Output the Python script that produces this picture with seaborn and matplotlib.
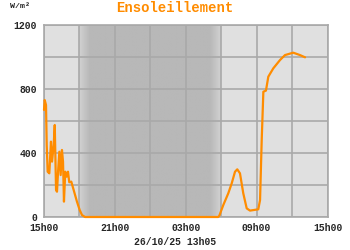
import numpy as np
import pandas as pd
import matplotlib
matplotlib.use("Agg")
import matplotlib.pyplot as plt
import seaborn as sns

# hours elapsed since 15h00 on the previous day
hours = [0.0, 0.06, 0.17, 0.23, 0.31, 0.45, 0.59, 0.68, 0.82, 0.91,
         1.02, 1.10, 1.19, 1.30, 1.41, 1.52, 1.61, 1.69, 1.80, 1.92,
         2.03, 2.14, 2.31, 2.51, 2.79, 3.02, 3.22, 3.47,
         14.75, 14.84, 15.18, 15.60, 15.89, 16.17, 16.36, 16.59, 16.87,
         17.16, 17.44, 18.14, 18.29, 18.43, 18.57, 18.79, 18.99, 19.41,
         19.98, 20.40, 21.10, 21.67, 22.10]
sun = [669, 731, 700, 450, 283, 273, 471, 346, 450, 575,
       169, 158, 283, 408, 262, 419, 346, 96, 283, 252,
       283, 217, 221, 169, 96, 44, 12, 0,
       0, 8, 75, 148, 210, 283, 298, 273, 148,
       54, 40, 48, 106, 481, 783, 790, 877, 929,
       981, 1012, 1027, 1012, 998]

tick_hours = [0, 6, 12, 18, 24]
tick_labels = ["15h00", "21h00", "03h00", "09h00", "15h00"]
y_ticks = [0, 400, 800, 1200]
title = "Ensoleillement"
unit = "W/m²"
stamp = "26/10/25 13h05"
night = (3, 15)

df = pd.DataFrame({"h": hours, "v": sun})

sns.set_style("white")
plt.rcParams["font.family"] = ["Liberation Mono", "DejaVu Sans Mono"]
plt.rcParams["font.weight"] = "bold"

fig = plt.figure(figsize=(3.5, 2.5), dpi=100)
ax = fig.add_axes([44 / 350, 1 - 217 / 250, 283.5 / 350, 192 / 250])
ax.set_facecolor("#e0e0e0")

# night shading with soft edges
n = 240
xs = np.linspace(night[0], night[1], n)
edge = 0.9
ramp = np.clip(np.minimum(xs - night[0], night[1] - xs) / edge, 0, 1)
light, dark = 0.82, 0.72
shade = light - (light - dark) * ramp
img = np.tile(shade, (2, 1))
ax.imshow(img, extent=(night[0], night[1], 0, 1200), aspect="auto",
          cmap="gray", vmin=0, vmax=1, zorder=0.5, interpolation="bilinear")

for h in range(0, 25, 3):
    ax.axvline(h, color="#a9a9a9", lw=1.2, zorder=1)
for v in range(0, 1201, 200):
    ax.axhline(v, color="#a9a9a9", lw=1.2, zorder=1)

sns.lineplot(data=df, x="h", y="v", ax=ax, color="#ff8c00", lw=1.6,
             zorder=3, clip_on=False)

ax.set_xlim(0, 24)
ax.set_ylim(0, 1200)
ax.set_xticks(tick_hours)
ax.set_xticklabels(tick_labels)
ax.set_yticks(y_ticks)
ax.set_yticklabels([str(t) for t in y_ticks])
ax.tick_params(length=0, labelsize=7)
ax.tick_params(axis="x", pad=4)
ax.tick_params(axis="y", pad=5)
for lab in ax.get_xticklabels() + ax.get_yticklabels():
    lab.set_fontweight("bold")
ax.set_xlabel("")
ax.set_ylabel("")
for s in ax.spines.values():
    s.set_color("#a9a9a9")
    s.set_linewidth(1.2)

fig.text(175 / 350, 1 - 8 / 250, title, color="#ff8c00", fontsize=10,
         fontweight="bold", ha="center", va="center")
fig.text(10 / 350, 1 - 6 / 250, unit, fontsize=6, fontweight="bold",
         ha="left", va="center")
fig.text(175 / 350, 1 - 242 / 250, stamp, fontsize=7, fontweight="bold",
         ha="center", va="center")

fig.savefig("out.png", dpi=100)
